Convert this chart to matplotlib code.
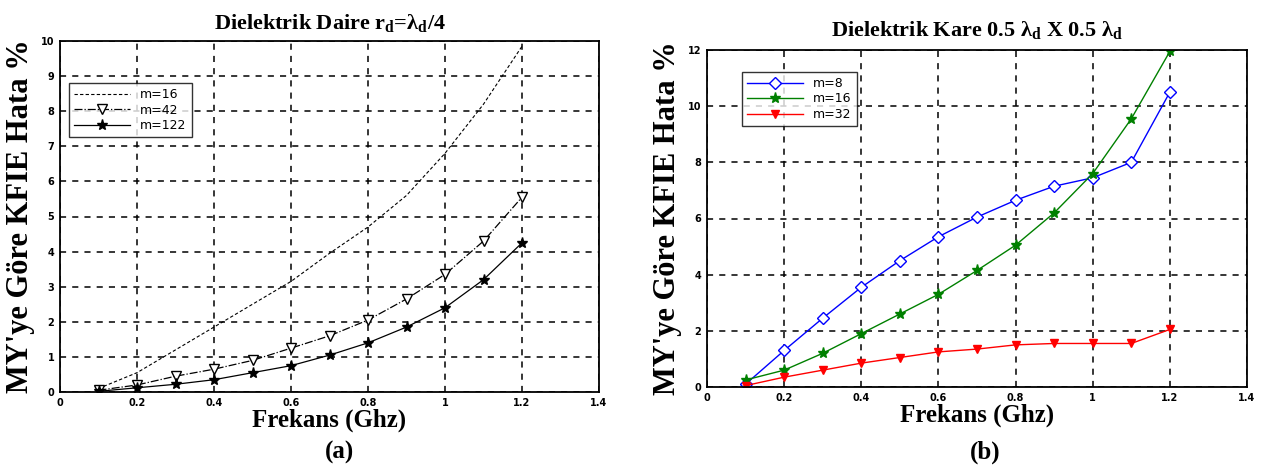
import numpy as np
import matplotlib.pyplot as plt

# Frekans noktalari (GHz)
frekans = [0.1, 0.2, 0.3, 0.4, 0.5, 0.6, 0.7, 0.8, 0.9, 1.0, 1.1, 1.2]

# (a) Dielektrik daire
daire_m16 = [0.1, 0.55, 1.2, 1.85, 2.5, 3.15, 3.95, 4.7, 5.6, 6.8, 8.2, 9.85]
daire_m42 = [0.05, 0.2, 0.45, 0.65, 0.9, 1.25, 1.6, 2.05, 2.65, 3.35, 4.3, 5.55]
daire_m122 = [0.02, 0.12, 0.22, 0.35, 0.55, 0.75, 1.05, 1.4, 1.85, 2.4, 3.2, 4.25]

# (b) Dielektrik kare
kare_m8 = [0.1, 1.3, 2.45, 3.55, 4.5, 5.35, 6.05, 6.65, 7.15, 7.45, 8.0, 10.5]
kare_m16 = [0.25, 0.6, 1.2, 1.9, 2.6, 3.3, 4.15, 5.05, 6.2, 7.6, 9.55, 11.95]
kare_m32 = [0.05, 0.35, 0.6, 0.85, 1.05, 1.25, 1.35, 1.5, 1.55, 1.55, 1.55, 2.05]

x_ticks = [0, 0.2, 0.4, 0.6, 0.8, 1, 1.2, 1.4]
x_tick_labels = ["0", "0.2", "0.4", "0.6", "0.8", "1", "1.2", "1.4"]

serif = "Liberation Serif"
plt.rcParams["mathtext.fontset"] = "custom"
plt.rcParams["mathtext.rm"] = "Liberation Serif"
plt.rcParams["mathtext.bf"] = "Liberation Serif:bold"

W, H = 1268, 474
fig = plt.figure(figsize=(W / 100, H / 100), dpi=100)


def px_axes(l, t, r, b):
  return fig.add_axes([l / W, 1 - b / H, (r - l) / W, (b - t) / H])


def stil(ax, ymax, ystep):
  ax.set_xlim(0, 1.4)
  ax.set_ylim(0, ymax)
  ax.set_xticks(x_ticks)
  ax.set_xticklabels(x_tick_labels)
  ax.set_yticks(np.arange(0, ymax + 0.01, ystep))
  ax.tick_params(labelsize=7, length=0, pad=4)
  for lab in ax.get_xticklabels() + ax.get_yticklabels():
    lab.set_fontweight("bold")
  ax.grid(True, color="black", linestyle=(0, (4, 4)), linewidth=1.1)
  for s in ax.spines.values():
    s.set_linewidth(1.3)
  ax.set_axisbelow(True)


# (a)
ax1 = px_axes(60, 41, 599, 392)
ax1.plot(frekans, daire_m16, color="black", linestyle=(0, (3, 2)), linewidth=0.8, label="m=16")
ax1.plot(frekans, daire_m42, color="black", linestyle="-.", linewidth=0.9, marker="v",
         markersize=7, markerfacecolor="white", markeredgecolor="black", label="m=42")
ax1.plot(frekans, daire_m122, color="black", linestyle="-", linewidth=0.9, marker="*",
         markersize=8, label="m=122")
stil(ax1, 10, 1)
ax1.set_title(r"Dielektrik Daire r$_{\mathbf{d}}$=λ$_{\mathbf{d}}$/4", family=serif,
              fontweight="bold", fontsize=16, pad=8)
ax1.legend(loc="upper left", bbox_to_anchor=(9 / 539, 1 - 42 / 351), fontsize=9,
           frameon=True, fancybox=False, edgecolor="black", borderaxespad=0,
           handlelength=4.5, labelspacing=0.2)

# (b)
ax2 = px_axes(707, 50, 1247, 387)
ax2.plot(frekans, kare_m8, color="blue", linewidth=1, marker="D", markersize=6,
         markerfacecolor="white", markeredgecolor="blue", label="m=8")
ax2.plot(frekans, kare_m16, color="green", linewidth=1, marker="*", markersize=8,
         label="m=16")
ax2.plot(frekans, kare_m32, color="red", linewidth=1, marker="v", markersize=6,
         label="m=32")
stil(ax2, 12, 2)
ax2.set_title(r"Dielektrik Kare 0.5 λ$_{\mathbf{d}}$ X 0.5 λ$_{\mathbf{d}}$", family=serif,
              fontweight="bold", fontsize=16, pad=10)
ax2.legend(loc="upper left", bbox_to_anchor=(35 / 540, 1 - 22 / 337), fontsize=9,
           frameon=True, fancybox=False, edgecolor="black", borderaxespad=0,
           handlelength=4.5, labelspacing=0.2)

for ax, etiket in [(ax1, "(a)"), (ax2, "(b)")]:
  ax.set_xlabel("Frekans (Ghz)", family=serif, fontweight="bold", fontsize=18, labelpad=1)
  ax.set_ylabel("MY'ye Göre KFIE Hata %", family=serif, fontweight="bold", fontsize=22,
                labelpad=4)
  ax.text(0.5 + 10 / 539, 0, etiket, transform=ax.transAxes, ha="center", va="center",
          family=serif, fontweight="bold", fontsize=18)

# (a) ve (b) etiketleri ayni satirda
ax1.texts[-1].set_transform(fig.transFigure)
ax1.texts[-1].set_position((340 / W, 1 - 452 / H))
ax2.texts[-1].set_transform(fig.transFigure)
ax2.texts[-1].set_position((985 / W, 1 - 452 / H))

fig.savefig("out.png", dpi=100)
